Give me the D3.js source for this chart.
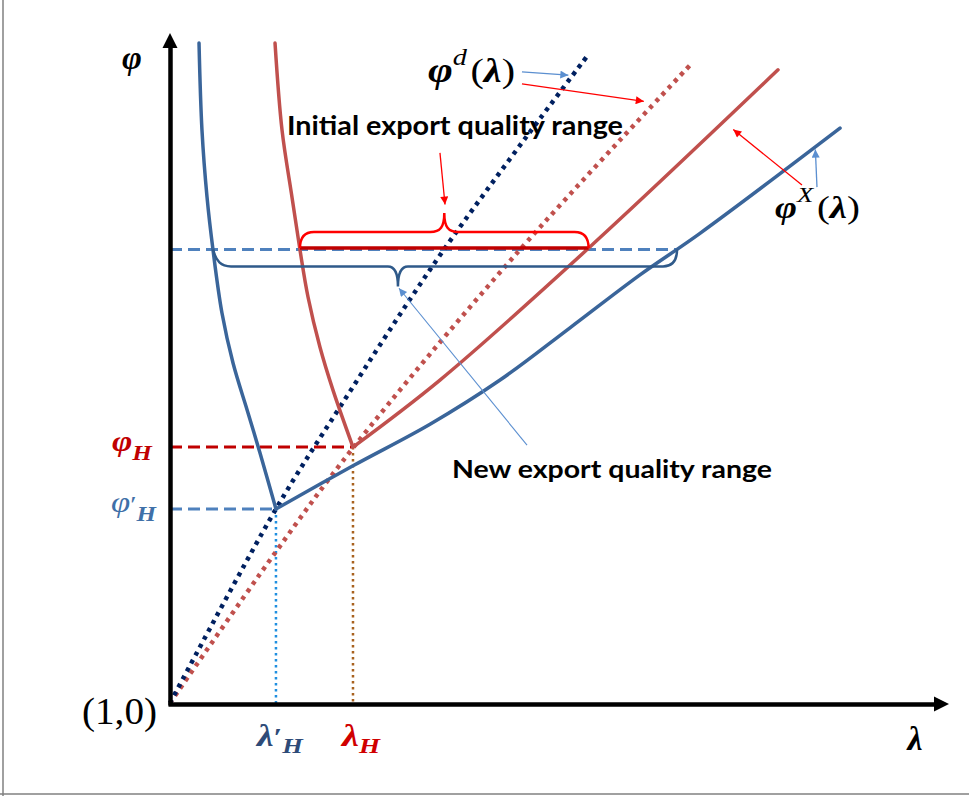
<!DOCTYPE html>
<html><head><meta charset="utf-8">
<script src="https://cdn.jsdelivr.net/npm/d3@7"></script>
<style>html,body{margin:0;padding:0;background:#fff;} svg{display:block}</style>
</head><body><svg id="c" width="969" height="796"></svg>
<script>
// ---------------- data (λ and φ in diagram units, origin = (1,0)) ----------------
const phiDNew      = [[0,0],[13.62,28.96],[21.85,44.18],[35.35,67.91],[53.73,96.72]];
const phiDInitial  = [[0,0],[13.50,22.39],[23.52,38.06],[44.60,67.16],[67.10,95.52]];
const phiXInitialLeft  = [[13.50,98.5],[14.40,85.5],[15.68,75.5],[16.71,67.6],[17.74,60.6],[19.28,53.1],[20.95,46.7],[23.52,38.2]];
const phiXInitialRight = [[23.52,38.2],[34.70,48.2],[54.00,68.1],[78.15,94.5]];
const phiXNewLeft  = [[3.73,98.5],[4.11,85.5],[4.76,75.5],[5.53,67.6],[6.68,58.2],[8.10,50.75],[10.03,43.3],[11.57,37.3],[13.62,28.96]];
const phiXNewRight = [[13.62,28.96],[23.52,35.4],[33.42,41.6],[42.42,48.2],[51.41,56.0],[60.41,63.9],[68.12,70.1],[86.12,85.8]];
const lambdaH = 23.52, lambdaHPrime = 13.62;
const phiH = 38.2, phiHPrime = 28.96;
const rangeLevel = 67.7;
const initialRange = [16.71, 53.8];
const newRange = [5.53, 65.17];
const newBraceTip = 29.3;
const textInitial = "Initial export quality range";
const textNew = "New export quality range";
// annotation leader arrows: [from, to]
const arrowInitial = [[34.70,82.1],[35.35,74.4]];
const arrowNew     = [[45.89,38.5],[29.43,61.9]];
const arrowPhiDBlue = [[45.24,94.2],[51.2,93.7]];
const arrowPhiDRed  = [[45.24,92.4],[60.9,89.8]];
const arrowPhiXRed  = [[81.23,77.3],[72.4,85.6]];
const arrowPhiXBlue = [[83.16,77.0],[82.95,82.6]];

// ---------------- setup ----------------
const svg = d3.select('#c');
const x = d3.scaleLinear().domain([0,100]).range([170,948]);
const y = d3.scaleLinear().domain([0,100]).range([703,33]);
const line = d3.line().x(d=>x(d[0])).y(d=>y(d[1]));
const smooth = d3.line().x(d=>x(d[0])).y(d=>y(d[1])).curve(d3.curveCatmullRom.alpha(0.5));

const defs = svg.append('defs');
function marker(id,color){
  defs.append('marker').attr('id',id).attr('viewBox','0 0 10 10').attr('refX',10).attr('refY',5)
    .attr('markerWidth',10).attr('markerHeight',8).attr('markerUnits','userSpaceOnUse').attr('orient','auto')
    .append('path').attr('d','M0,0L10,5L0,10z').attr('fill',color);
}
marker('mRed','#ff0000'); marker('mBlue','#5b8fd0');

// frame
svg.append('line').attr('x1',3).attr('x2',3).attr('y1',0).attr('y2',796).attr('stroke','#808080').attr('stroke-width',1.5);
svg.append('line').attr('x1',0).attr('x2',969).attr('y1',794).attr('y2',794).attr('stroke','#808080').attr('stroke-width',1.5);

// reference dashed / dotted lines
svg.append('path').attr('d',line([[0,rangeLevel],[newRange[1],rangeLevel]]))
  .attr('stroke','#4f81bd').attr('stroke-width',3).attr('stroke-dasharray','12 6').attr('fill','none');
svg.append('path').attr('d',line([[0,phiH],[lambdaH,phiH]]))
  .attr('stroke','#c00000').attr('stroke-width',3).attr('stroke-dasharray','12 6').attr('fill','none');
svg.append('path').attr('d',line([[0,phiHPrime],[lambdaHPrime,phiHPrime]]))
  .attr('stroke','#4f81bd').attr('stroke-width',3).attr('stroke-dasharray','12 6').attr('fill','none');
svg.append('path').attr('d',line([[lambdaHPrime,phiHPrime],[lambdaHPrime,0]]))
  .attr('stroke','#1f8fe0').attr('stroke-width',2.5).attr('stroke-dasharray','2.5 3.5').attr('fill','none');
svg.append('path').attr('d',line([[lambdaH,phiH],[lambdaH,0]]))
  .attr('stroke','#a8621f').attr('stroke-width',2.5).attr('stroke-dasharray','2.5 3.5').attr('fill','none');

// φ^d lines
svg.append('path').attr('d',smooth(phiDInitial)).attr('stroke','#c0504d').attr('stroke-width',4.5)
  .attr('stroke-dasharray','4 5').attr('fill','none');
svg.append('path').attr('d',smooth(phiDNew)).attr('stroke','#002060').attr('stroke-width',4.5)
  .attr('stroke-dasharray','4 5').attr('fill','none');

// φ^X curves
[phiXInitialLeft, phiXInitialRight].forEach(a=>svg.append('path').attr('d',smooth(a))
  .attr('stroke','#c0504d').attr('stroke-width',3.5).attr('fill','none').attr('stroke-linecap','round'));
[phiXNewLeft, phiXNewRight].forEach(a=>svg.append('path').attr('d',smooth(a))
  .attr('stroke','#3a659a').attr('stroke-width',3.5).attr('fill','none').attr('stroke-linecap','round'));

// braces
{
  const x0=x(initialRange[0]), x1=x(initialRange[1]), yb=y(rangeLevel)-1.5, xm=(x0+x1)/2;
  svg.append('path').attr('d',`M${x0},${yb}L${x1},${yb}`).attr('stroke','#c00000').attr('stroke-width',3.5);
  svg.append('path').attr('d',
    `M${x0},${yb}C${x0},${yb-10} ${x0+4},${yb-16} ${x0+14},${yb-16}L${xm-14},${yb-16}`+
    `C${xm-4},${yb-16} ${xm},${yb-21} ${xm},${yb-35}C${xm},${yb-21} ${xm+4},${yb-16} ${xm+14},${yb-16}`+
    `L${x1-14},${yb-16}C${x1-4},${yb-16} ${x1},${yb-10} ${x1},${yb}`)
    .attr('stroke','#ff0000').attr('stroke-width',2.5).attr('fill','none');
}
{
  const x0=x(newRange[0]), x1=x(newRange[1]), yb=y(rangeLevel), xt=x(newBraceTip);
  svg.append('path').attr('d',
    `M${x0},${yb}C${x0+3},${yb+12} ${x0+8},${yb+17} ${x0+18},${yb+17}L${xt-10},${yb+17}`+
    `C${xt-4},${yb+17} ${xt},${yb+22} ${xt},${yb+37}C${xt},${yb+22} ${xt+4},${yb+17} ${xt+10},${yb+17}`+
    `L${x1-14},${yb+17}C${x1-4},${yb+17} ${x1},${yb+10} ${x1},${yb}`)
    .attr('stroke','#2f5a8a').attr('stroke-width',2.5).attr('fill','none');
}

// axes
const xAxisScale = x.copy().range([168, 936]);
const yAxisScale = y.copy().range([705, 46]);
const gx = svg.append('g').attr('transform',`translate(0,${y(0)+1})`).call(d3.axisBottom(xAxisScale).tickValues([]).tickSizeOuter(0));
const gy = svg.append('g').attr('transform',`translate(${x(0)},0)`).call(d3.axisLeft(yAxisScale).tickValues([]).tickSizeOuter(0));
[gx,gy].forEach(g=>g.select('.domain').attr('stroke','#000').attr('stroke-width',4.5));
svg.append('path').attr('d',`M949,${y(0)+1}L934,${y(0)+1-7.5}L934,${y(0)+1+7.5}Z`).attr('fill','#000');
svg.append('path').attr('d',`M${x(0)},33L${x(0)-7.5},48L${x(0)+7.5},48Z`).attr('fill','#000');

// annotation arrows
function arrow(a,color,mk,w){
  svg.append('path').attr('d',line(a)).attr('stroke',color).attr('stroke-width',w||1.3).attr('fill','none')
    .attr('marker-end',`url(#${mk})`);
}
arrow(arrowInitial,'#ff0000','mRed');
arrow(arrowNew,'#5b8fd0','mBlue',1.1);
arrow(arrowPhiDBlue,'#5b8fd0','mBlue');
arrow(arrowPhiDRed,'#ff0000','mRed');
arrow(arrowPhiXRed,'#ff0000','mRed');
arrow(arrowPhiXBlue,'#5b8fd0','mBlue');

// text labels
const serif = "Liberation Serif";
svg.append('text').attr('x',287).attr('y',135).attr('font-family','Lato, sans-serif').attr('font-weight','bold')
  .attr('font-size',26).attr('textLength',336).attr('lengthAdjust','spacingAndGlyphs').text(textInitial);
svg.append('text').attr('x',452).attr('y',478).attr('font-family','Lato, sans-serif').attr('font-weight','bold')
  .attr('font-size',24).attr('textLength',320).attr('lengthAdjust','spacingAndGlyphs').text(textNew);

function mathLabel(px,py,parts,color,anchor,len){
  const t = svg.append('text').attr('x',px).attr('y',py).attr('fill',color||'#000')
    .attr('text-anchor',anchor||'start').style('font-family',serif);
  if(len) t.attr('textLength',len).attr('lengthAdjust','spacingAndGlyphs');
  parts.forEach(p=>{
    t.append('tspan').attr('font-size',p.s).attr('font-weight',p.b?'bold':'normal')
     .attr('font-style',p.i?'italic':'normal').attr('dy',p.dy||0).attr('dx',p.dx||0).text(p.t);
  });
  return t;
}
mathLabel(132,69,[{t:'φ',s:34,b:1,i:1}],'#000','middle');
mathLabel(915,750,[{t:'λ',s:34,b:1,i:1}],'#000','middle');
svg.append('text').attr('x',82).attr('y',724).style('font-family',serif).attr('font-size',38)
  .attr('textLength',75).attr('lengthAdjust','spacingAndGlyphs').text('(1,0)');
mathLabel(257,746,[{t:'λ',s:31,b:1,i:1},{t:'′',s:26,b:1},{t:'H',s:22,b:1,i:1,dy:7}],'#2e4b78','start',46);
mathLabel(342,746,[{t:'λ',s:31,b:1,i:1},{t:'H',s:22,b:1,i:1,dy:7}],'#d00000','start',38);
mathLabel(112,451,[{t:'φ',s:29,b:1,i:1},{t:'H',s:21,b:1,i:1,dy:9}],'#c00000','start',40);
mathLabel(111,512,[{t:'φ',s:29,i:1},{t:'′',s:24},{t:'H',s:21,b:1,i:1,dy:9}],'#3f70a8','start',45);
mathLabel(428,82,[{t:'φ',s:36,b:1,i:1},{t:'d',s:24,i:1,dy:-17},{t:'(',s:34,dy:17,dx:3},{t:'λ',s:34,b:1,i:1},{t:')',s:34}],'#000','start',87);
mathLabel(775,218,[{t:'φ',s:31,b:1,i:1},{t:'X',s:22,i:1,dy:-16},{t:'(',s:32,dy:16,dx:3},{t:'λ',s:32,b:1,i:1},{t:')',s:32}],'#000','start',85);
</script></body></html>
